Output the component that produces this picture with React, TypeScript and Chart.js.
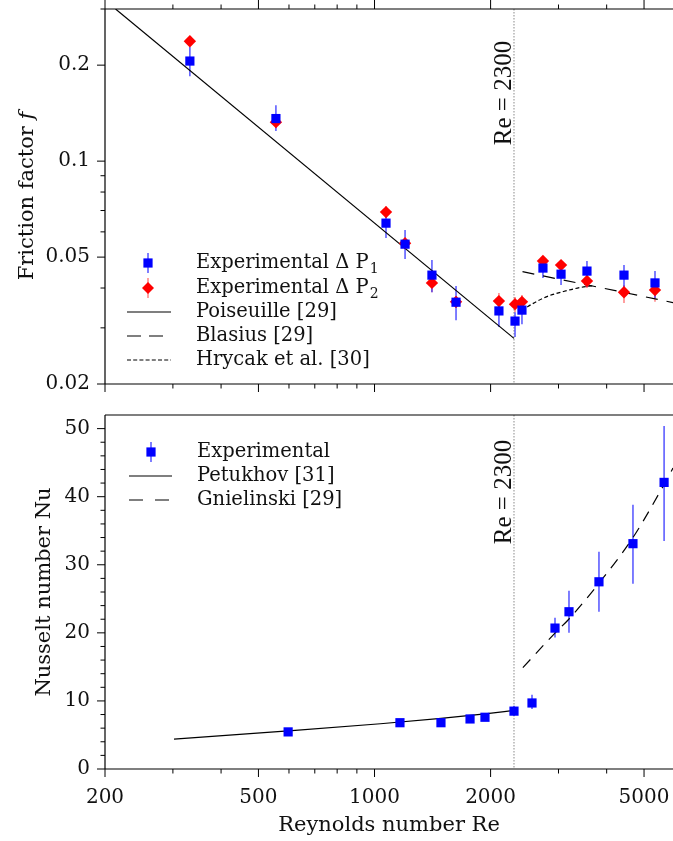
import React, { useEffect, useRef } from 'react';
import { Chart, registerables } from 'chart.js';

Chart.register(...registerables);

// ---------- axis ranges & ticks ----------
const RE_MIN = 200;
const RE_MAX = 5944;
const F_MIN = 0.02;
const F_MAX = 0.3;
const NU_MIN = 0;
const NU_MAX = 52;
const RE_CRIT = 2300;

const xMajorTicks = [200, 500, 1000, 2000, 5000];
const xMinorTicks = [300, 400, 600, 700, 800, 900, 3000, 4000];
const fMajorTicks = [0.02, 0.05, 0.1, 0.2];
const fMinorTicks = [0.03, 0.04, 0.06, 0.07, 0.08, 0.09, 0.3];
const nuMajorTicks = [0, 10, 20, 30, 40, 50];
const nuMinorTicks = [2, 4, 6, 8, 12, 14, 16, 18, 22, 24, 26, 28, 32, 34, 36, 38, 42, 44, 46, 48];

// ---------- friction factor data ----------
const reP = [332, 555, 1071, 1200, 1409, 1627, 2102, 2314, 2412, 2734, 3046, 3556, 4436, 5338];
const fP1 = [0.206, 0.136, 0.0639, 0.0549, 0.0439, 0.0361, 0.0339, 0.0315, 0.0341, 0.0462, 0.0442, 0.0452, 0.0439, 0.0415];
const fP1Lo = [0.1847, 0.1242, 0.0574, 0.0493, 0.0388, 0.0317, 0.0302, 0.0281, 0.0308, 0.043, 0.0409, 0.0403, 0.0403, 0.0372];
const fP1Hi = [0.2278, 0.1498, 0.0707, 0.0608, 0.049, 0.0406, 0.0367, 0.0336, 0.0375, 0.049, 0.0483, 0.0486, 0.0472, 0.0452];
const fP2 = [0.2377, 0.1325, 0.0692, 0.0553, 0.0415, 0.0362, 0.0364, 0.0356, 0.0362, 0.0486, 0.0472, 0.0421, 0.0388, 0.0394];
const fP2Lo = [0.2294, 0.1269, 0.0663, 0.053, 0.0388, 0.0346, 0.0346, 0.0336, 0.034, 0.0469, 0.0455, 0.04, 0.0359, 0.0362];
const fP2Hi = [0.2465, 0.1384, 0.0723, 0.0574, 0.0436, 0.0377, 0.0386, 0.0375, 0.038, 0.0504, 0.049, 0.0439, 0.0409, 0.0412];

const poiseuilleRe = [213, 2300];
const poiseuilleF = [0.3, 0.0278];
const blasiusRe = [2420, 3600, 5944];
const blasiusF = [0.045, 0.0408, 0.036];
const hrycakRe = [2412, 2500, 2800, 3090, 3400, 3700];
const hrycakF = [0.0339, 0.035, 0.0376, 0.039, 0.0401, 0.0407];

// ---------- Nusselt data ----------
const reNu = [597, 1164, 1487, 1769, 1934, 2300, 2561, 2938, 3194, 3820, 4680, 5636];
const nu = [5.45, 6.8, 6.8, 7.35, 7.6, 8.5, 9.7, 20.7, 23.1, 27.5, 33.1, 42.1];
const nuLo = [5.2, 6.5, 6.5, 6.9, 7.2, 7.8, 8.8, 19.3, 20.0, 23.1, 27.2, 33.5];
const nuHi = [5.7, 7.1, 7.1, 7.8, 8.0, 9.3, 10.9, 22.2, 26.2, 31.9, 38.8, 50.4];

const petukhovRe = [302, 597, 1036, 1487, 1934, 2300];
const petukhovNu = [4.4, 5.6, 6.65, 7.45, 8.1, 8.6];
const gnielinskiRe = [2425, 2942, 3190, 3820, 4680, 5636, 5944];
const gnielinskiNu = [14.9, 20.0, 22.0, 27.3, 34.0, 41.8, 44.2];

// ---------- styling ----------
const SERIF = "'DejaVu Serif'";
const TICK_FONT = { family: 'DejaVu Serif', size: 20 };
const BLUE = '#0000ff';
const RED = '#ff0000';
const BLUE_ERR = 'rgba(40,40,255,0.8)';
const RED_ERR = 'rgba(255,60,60,0.65)';
const MAJOR_LEN = 8;
const MINOR_LEN = 4.5;

const pts = (xs: number[], ys: number[]) => xs.map((x, i) => ({ x, y: ys[i] }));

const fixY = (w: number) => (s: any) => {
  s.width = w;
  s.paddingTop = 0;
  s.paddingBottom = 0;
  s.paddingLeft = 0;
  s.paddingRight = 0;
};
const fixX = (h: number) => (s: any) => {
  s.height = h;
  s.paddingTop = 0;
  s.paddingBottom = 0;
  s.paddingLeft = 0;
  s.paddingRight = 0;
};

function drawErr(chart: any, xs: number[], lo: number[], hi: number[], color: string, w: number) {
  const { ctx, scales } = chart;
  ctx.save();
  ctx.strokeStyle = color;
  ctx.lineWidth = w;
  xs.forEach((re, i) => {
    const px = scales.x.getPixelForValue(re);
    ctx.beginPath();
    ctx.moveTo(px, scales.y.getPixelForValue(lo[i]));
    ctx.lineTo(px, scales.y.getPixelForValue(hi[i]));
    ctx.stroke();
  });
  ctx.restore();
}

function drawFrame(chart: any, yMajor: number[], yMinor: number[], topTicks: boolean) {
  const { ctx, chartArea: ca, scales } = chart;
  ctx.save();
  ctx.strokeStyle = '#000';
  ctx.lineWidth = 1.2;
  ctx.beginPath();
  ctx.moveTo(ca.left, ca.top);
  ctx.lineTo(ca.right + 2, ca.top);
  ctx.moveTo(ca.left, ca.top);
  ctx.lineTo(ca.left, ca.bottom);
  ctx.moveTo(ca.left, ca.bottom);
  ctx.lineTo(ca.right + 2, ca.bottom);
  ctx.stroke();
  ctx.lineWidth = 1;
  ctx.beginPath();
  const yt = (v: number, len: number) => {
    const py = scales.y.getPixelForValue(v);
    ctx.moveTo(ca.left, py);
    ctx.lineTo(ca.left - len, py);
  };
  yMajor.forEach((v) => yt(v, MAJOR_LEN));
  yMinor.forEach((v) => yt(v, MINOR_LEN));
  const xt = (v: number, len: number) => {
    const px = scales.x.getPixelForValue(v);
    ctx.moveTo(px, ca.bottom);
    ctx.lineTo(px, ca.bottom + len);
    if (topTicks) {
      ctx.moveTo(px, ca.top);
      ctx.lineTo(px, ca.top - len - (len === MAJOR_LEN ? 1 : 0));
    }
  };
  xMajorTicks.forEach((v) => xt(v, MAJOR_LEN));
  xMinorTicks.forEach((v) => xt(v, MINOR_LEN));
  ctx.stroke();
  ctx.restore();
}

function drawCritLine(chart: any, textCenterY: number) {
  const { ctx, chartArea: ca, scales } = chart;
  const px = scales.x.getPixelForValue(RE_CRIT);
  ctx.save();
  ctx.strokeStyle = '#8a8a8a';
  ctx.lineWidth = 1;
  ctx.setLineDash([1.5, 1.5]);
  ctx.beginPath();
  ctx.moveTo(px, ca.top);
  ctx.lineTo(px, ca.bottom);
  ctx.stroke();
  ctx.setLineDash([]);
  ctx.translate(px - 3, textCenterY);
  ctx.rotate(-Math.PI / 2);
  ctx.font = "25px 'Liberation Serif'";
  ctx.fillStyle = '#111';
  ctx.textAlign = 'center';
  ctx.textBaseline = 'alphabetic';
  ctx.fillText('Re = 2300', 0, 0);
  ctx.restore();
}

function drawRotTitle(ctx: CanvasRenderingContext2D, parts: { t: string; italic?: boolean }[], baseX: number, cy: number) {
  ctx.save();
  ctx.translate(baseX, cy);
  ctx.rotate(-Math.PI / 2);
  ctx.fillStyle = '#111';
  ctx.textBaseline = 'alphabetic';
  ctx.textAlign = 'left';
  const fonts = parts.map((p) => (p.italic ? `italic 21px ${SERIF}` : `21px ${SERIF}`));
  let total = 0;
  const widths = parts.map((p, i) => {
    ctx.font = fonts[i];
    const w = ctx.measureText(p.t).width;
    total += w;
    return w;
  });
  let x = -total / 2;
  parts.forEach((p, i) => {
    ctx.font = fonts[i];
    ctx.fillText(p.t, x, 0);
    x += widths[i];
  });
  ctx.restore();
}

function legendText(ctx: CanvasRenderingContext2D, x: number, y: number, main: string, sub?: string) {
  ctx.font = `19.5px ${SERIF}`;
  ctx.fillStyle = '#111';
  ctx.textAlign = 'left';
  ctx.textBaseline = 'middle';
  ctx.fillText(main, x, y);
  if (sub) {
    const w = ctx.measureText(main).width;
    ctx.font = `14px ${SERIF}`;
    ctx.fillText(sub, x + w + 1, y + 6);
  }
}

function legendSquare(ctx: CanvasRenderingContext2D, x: number, y: number, errColor: string) {
  ctx.strokeStyle = errColor;
  ctx.lineWidth = 1.5;
  ctx.beginPath();
  ctx.moveTo(x, y - 10);
  ctx.lineTo(x, y + 10);
  ctx.stroke();
  ctx.fillStyle = BLUE;
  ctx.fillRect(x - 4.6, y - 4.6, 9.2, 9.2);
}

function legendDiamond(ctx: CanvasRenderingContext2D, x: number, y: number) {
  ctx.strokeStyle = RED_ERR;
  ctx.lineWidth = 1.5;
  ctx.beginPath();
  ctx.moveTo(x, y - 10);
  ctx.lineTo(x, y + 10);
  ctx.stroke();
  ctx.fillStyle = RED;
  ctx.beginPath();
  ctx.moveTo(x - 6, y);
  ctx.lineTo(x, y - 6);
  ctx.lineTo(x + 6, y);
  ctx.lineTo(x, y + 6);
  ctx.closePath();
  ctx.fill();
}

function legendLine(ctx: CanvasRenderingContext2D, x0: number, x1: number, y: number, dash: number[]) {
  ctx.strokeStyle = '#000';
  ctx.lineWidth = 1.2;
  ctx.setLineDash(dash);
  ctx.beginPath();
  ctx.moveTo(x0, y);
  ctx.lineTo(x1, y);
  ctx.stroke();
  ctx.setLineDash([]);
}

const topPlugin = {
  id: 'topDecor',
  beforeDatasetsDraw(chart: any) {
    drawCritLine(chart, 93);
    drawErr(chart, reP, fP2Lo, fP2Hi, RED_ERR, 1.5);
    drawErr(chart, reP, fP1Lo, fP1Hi, BLUE_ERR, 1.5);
  },
  afterDraw(chart: any) {
    const { ctx } = chart;
    drawFrame(chart, fMajorTicks, fMinorTicks, true);
    drawRotTitle(ctx, [{ t: 'Friction factor ' }, { t: 'f', italic: true }], 33, 196);
    ctx.save();
    legendSquare(ctx, 148, 263, BLUE_ERR);
    legendText(ctx, 196, 263, 'Experimental Δ P', '1');
    legendDiamond(ctx, 148, 288);
    legendText(ctx, 196, 288, 'Experimental Δ P', '2');
    legendLine(ctx, 127, 171, 312, []);
    legendText(ctx, 196, 312, 'Poiseuille [29]');
    legendLine(ctx, 127, 171, 336, [14, 8]);
    legendText(ctx, 196, 336, 'Blasius [29]');
    legendLine(ctx, 127, 171, 360, [4, 2.2]);
    legendText(ctx, 196, 360, 'Hrycak et al. [30]');
    ctx.restore();
  },
};

const bottomPlugin = {
  id: 'bottomDecor',
  beforeDatasetsDraw(chart: any) {
    drawCritLine(chart, 92);
    drawErr(chart, reNu, nuLo, nuHi, BLUE_ERR, 1.5);
  },
  afterDraw(chart: any) {
    const { ctx } = chart;
    drawFrame(chart, nuMajorTicks, nuMinorTicks, false);
    drawRotTitle(ctx, [{ t: 'Nusselt number Nu' }], 50, 192);
    ctx.save();
    ctx.font = `21px ${SERIF}`;
    ctx.fillStyle = '#111';
    ctx.textAlign = 'center';
    ctx.textBaseline = 'alphabetic';
    ctx.fillText('Reynolds number Re', 389, 431);
    legendSquare(ctx, 151, 52, BLUE_ERR);
    legendText(ctx, 197, 52, 'Experimental');
    legendLine(ctx, 129, 172, 76, []);
    legendText(ctx, 197, 76, 'Petukhov [31]');
    legendLine(ctx, 129, 172, 100, [14, 12]);
    legendText(ctx, 197, 100, 'Gnielinski [29]');
    ctx.restore();
  },
};

const commonOpts = {
  responsive: false,
  maintainAspectRatio: false,
  animation: false as const,
  devicePixelRatio: 1,
  events: [] as any[],
  plugins: { legend: { display: false }, tooltip: { enabled: false } },
};

function lineDs(xs: number[], ys: number[], dash: number[], smooth = false) {
  return {
    type: 'line' as const,
    data: pts(xs, ys),
    borderColor: '#000',
    borderWidth: 1.2,
    borderDash: dash,
    pointRadius: 0,
    fill: false,
    tension: 0,
    cubicInterpolationMode: smooth ? ('monotone' as const) : ('default' as const),
  };
}

function topConfig(): any {
  return {
    type: 'scatter',
    data: {
      datasets: [
        {
          data: pts(reP, fP1),
          pointStyle: 'rect',
          pointRadius: 6.5,
          backgroundColor: BLUE,
          borderWidth: 0,
        },
        {
          data: pts(reP, fP2),
          pointStyle: 'rectRot',
          pointRadius: 6.2,
          backgroundColor: RED,
          borderWidth: 0,
        },
        lineDs(poiseuilleRe, poiseuilleF, []),
        lineDs(blasiusRe, blasiusF, [12, 9]),
        lineDs(hrycakRe, hrycakF, [4, 2.5], true),
      ],
    },
    options: {
      ...commonOpts,
      layout: { autoPadding: false, padding: { top: 9, left: 0, right: 0, bottom: 0 } },
      scales: {
        x: {
          type: 'logarithmic',
          min: RE_MIN,
          max: RE_MAX,
          position: 'bottom',
          grid: { display: false, drawTicks: false },
          border: { display: false },
          ticks: { display: false },
          afterBuildTicks: (s: any) => {
            s.ticks = xMajorTicks.map((v) => ({ value: v }));
          },
          afterFit: fixX(16),
        },
        y: {
          type: 'logarithmic',
          min: F_MIN,
          max: F_MAX,
          grid: { display: false, drawTicks: false },
          border: { display: false },
          ticks: {
            font: TICK_FONT,
            color: '#111',
            padding: 15,
            autoSkip: false,
            callback: (v: any) => String(v),
          },
          afterBuildTicks: (s: any) => {
            s.ticks = fMajorTicks.map((v) => ({ value: v }));
          },
          afterFit: fixY(105),
        },
      },
    },
    plugins: [topPlugin],
  };
}

function bottomConfig(): any {
  return {
    type: 'scatter',
    data: {
      datasets: [
        {
          data: pts(reNu, nu),
          pointStyle: 'rect',
          pointRadius: 6.5,
          backgroundColor: BLUE,
          borderWidth: 0,
        },
        lineDs(petukhovRe, petukhovNu, [], true),
        lineDs(gnielinskiRe, gnielinskiNu, [11, 8], true),
      ],
    },
    options: {
      ...commonOpts,
      layout: { autoPadding: false, padding: { top: 15, left: 0, right: 0, bottom: 0 } },
      scales: {
        x: {
          type: 'logarithmic',
          min: RE_MIN,
          max: RE_MAX,
          position: 'bottom',
          grid: { display: false, drawTicks: false },
          border: { display: false },
          ticks: {
            font: TICK_FONT,
            color: '#111',
            padding: 17,
            autoSkip: false,
            maxRotation: 0,
            minRotation: 0,
            callback: (v: any) => String(v),
          },
          afterBuildTicks: (s: any) => {
            s.ticks = xMajorTicks.map((v) => ({ value: v }));
          },
          afterFit: fixX(72),
        },
        y: {
          type: 'linear',
          min: NU_MIN,
          max: NU_MAX,
          grid: { display: false, drawTicks: false },
          border: { display: false },
          ticks: {
            font: TICK_FONT,
            color: '#111',
            padding: 15,
            autoSkip: false,
            callback: (v: any) => String(v),
          },
          afterBuildTicks: (s: any) => {
            s.ticks = nuMajorTicks.map((v) => ({ value: v }));
          },
          afterFit: fixY(105),
        },
      },
    },
    plugins: [bottomPlugin],
  };
}

export default function App() {
  const topRef = useRef<HTMLCanvasElement>(null);
  const botRef = useRef<HTMLCanvasElement>(null);

  useEffect(() => {
    const c1 = new Chart(topRef.current as HTMLCanvasElement, topConfig());
    const c2 = new Chart(botRef.current as HTMLCanvasElement, bottomConfig());
    return () => {
      c1.destroy();
      c2.destroy();
    };
  }, []);

  return (
    <div style={{ position: 'fixed', left: 0, top: 0, width: 673, height: 841, background: '#fff', overflow: 'hidden' }}>
      <canvas ref={topRef} width={673} height={400} style={{ position: 'absolute', left: 0, top: 0 }} />
      <canvas ref={botRef} width={673} height={441} style={{ position: 'absolute', left: 0, top: 400 }} />
    </div>
  );
}
